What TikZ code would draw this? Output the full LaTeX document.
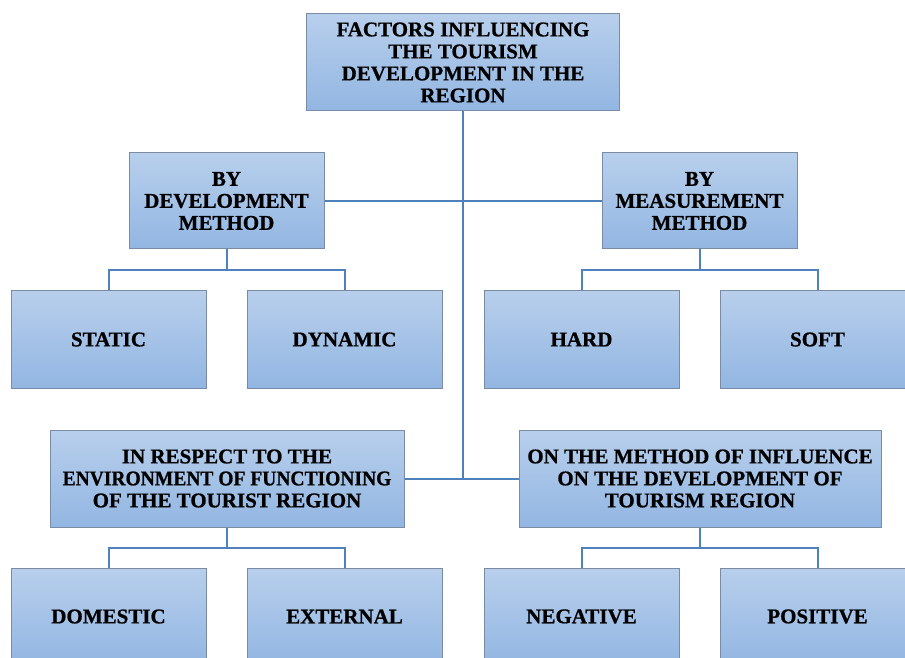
\documentclass[tikz,border=0pt]{standalone}
\usepackage{fontspec}
\setmainfont[BoldFeatures={FakeBold=0.8}]{Liberation Serif}
\usepackage{graphicx}
\usepackage{tikz}
\usetikzlibrary{positioning}

\definecolor{boxtop}{RGB}{184,207,236}
\definecolor{boxbottom}{RGB}{146,182,226}
\definecolor{boxedge}{RGB}{122,140,165}
\definecolor{linkblue}{RGB}{79,129,189}

\begin{document}
\begin{tikzpicture}[x=1pt,y=1pt,
  factor/.style={draw=boxedge,line width=1pt,top color=boxtop,bottom color=boxbottom,
    align=center,inner sep=0pt,font=\fontsize{21}{22}\selectfont\bfseries},
  link/.style={draw=linkblue,line width=2pt}]
  \useasboundingbox (0,0) rectangle (905,657);
  \clip (0,0) rectangle (905,657);

  %root
  \node[factor,minimum width=313,minimum height=97] (root) at (463,594.5)
    {FACTORS INFLUENCING\\THE TOURISM\\DEVELOPMENT IN THE\\REGION};

  %second level
  \node[factor,minimum width=195,minimum height=96] (dev) at (226.5,456)
    {BY\\DEVELOPMENT\\METHOD};
  \node[factor,minimum width=195,minimum height=96] (meas) at (699.5,456)
    {BY\\MEASUREMENT\\METHOD};
  \node[factor,minimum width=354,minimum height=97] (env) at (227,178.5)
    {IN RESPECT TO THE\\\scalebox{0.93}[1]{ENVIRONMENT OF FUNCTIONING}\\OF THE TOURIST REGION};
  \node[factor,minimum width=362,minimum height=97] (infl) at (700,178.5)
    {ON THE METHOD OF INFLUENCE\\ON THE DEVELOPMENT OF\\TOURISM REGION};

  %leaves
  \node[factor,minimum width=195,minimum height=97] (static) at (108.5,317.5) {STATIC};
  \node[factor,minimum width=195,minimum height=97] (dynamic) at (344.5,317.5) {DYNAMIC};
  \node[factor,minimum width=195,minimum height=97] (hard) at (581.5,317.5) {HARD};
  \node[factor,minimum width=195,minimum height=97] (soft) at (817.5,317.5) {SOFT};
  \node[factor,minimum width=195,minimum height=97] (domestic) at (108.5,40.5) {DOMESTIC};
  \node[factor,minimum width=195,minimum height=97] (external) at (344.5,40.5) {EXTERNAL};
  \node[factor,minimum width=195,minimum height=97] (negative) at (581.5,40.5) {NEGATIVE};
  \node[factor,minimum width=195,minimum height=97] (positive) at (817.5,40.5) {POSITIVE};

  %trunk
  \draw[link] (root.south) -- (root.south |- env.east);
  \draw[link] (dev.east) -- (meas.west);
  \draw[link] (env.east) -- (infl.west);

  %forks
  \draw[link] (dev.south) -- ++(0,-21) coordinate (devfork);
  \draw[link] (static.north) |- (devfork) -| (dynamic.north);
  \draw[link] (meas.south) -- ++(0,-21) coordinate (measfork);
  \draw[link] (hard.north) |- (measfork) -| (soft.north);
  \draw[link] (env.south) -- ++(0,-20.5) coordinate (envfork);
  \draw[link] (domestic.north) |- (envfork) -| (external.north);
  \draw[link] (infl.south) -- ++(0,-20.5) coordinate (inflfork);
  \draw[link] (negative.north) |- (inflfork) -| (positive.north);
\end{tikzpicture}
\end{document}
